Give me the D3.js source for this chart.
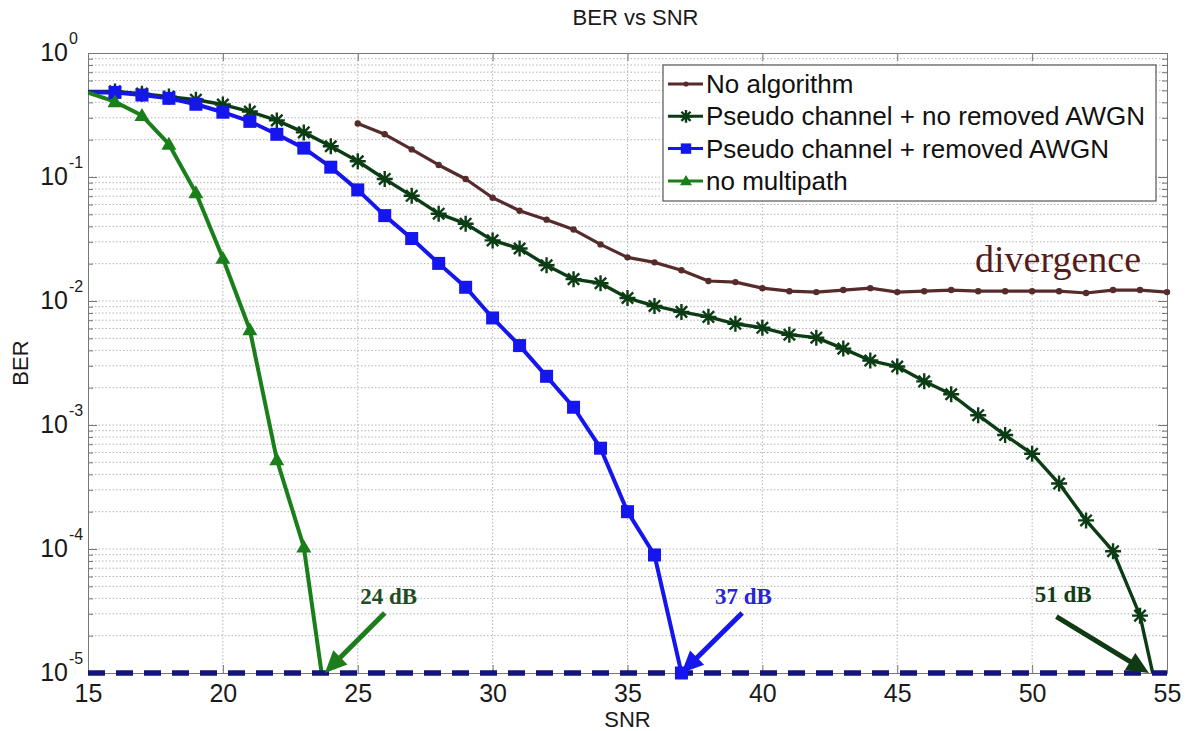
<!DOCTYPE html>
<html><head><meta charset="utf-8">
<script src="https://cdn.jsdelivr.net/npm/d3@7"></script>
<style>
body{margin:0;background:#fff}
svg{display:block}
</style>
</head><body>
<svg id="c" width="1188" height="731" font-family="Liberation Sans, Arial, sans-serif"></svg>
<script>
// ---------- DATA ----------
const snrNoAlgorithm = [25,26,27,28,29,30,31,32,33,34,35,36,37,38,39,40,41,42,43,44,45,46,47,48,49,50,51,52,53,54,55];
const berNoAlgorithm = [0.27,0.221,0.167,0.125,0.0964,0.068,0.0535,0.0453,0.0377,0.0286,0.0225,0.0205,0.0177,0.0145,0.0142,0.0127,0.0120,0.0118,0.01225,0.0127,0.0118,0.0120,0.01225,0.0120,0.0120,0.0120,0.0120,0.0116,0.01225,0.01225,0.0118];

const snrNoRemoved = [15,16,17,18,19,20,21,22,23,24,25,26,27,28,29,30,31,32,33,34,35,36,37,38,39,40,41,42,43,44,45,46,47,48,49,50,51,52,53,54,55];
const berNoRemoved = [0.49,0.49,0.47,0.445,0.42,0.384,0.337,0.286,0.229,0.177,0.134,0.0964,0.0705,0.0506,0.042,0.0308,0.0265,0.0194,0.015,0.0139,0.01057,0.00912,0.00817,0.00745,0.00655,0.00608,0.00535,0.00506,0.00413,0.00331,0.00296,0.00225,0.00177,0.0012,0.00083,0.000586,0.000337,0.00017,0.000096,0.000029,0.000003];

const snrRemoved = [15,16,17,18,19,20,21,22,23,24,25,26,27,28,29,30,31,32,33,34,35,36,37];
const berRemoved = [0.48,0.481,0.458,0.431,0.386,0.333,0.281,0.221,0.171,0.120,0.0787,0.0488,0.0319,0.0201,0.0129,0.0073,0.00437,0.00247,0.00139,0.00065,0.0002,0.0000895,0.00001];

const snrNoMultipath = [15,16,17,18,19,20,21,22,23,24];
const berNoMultipath = [0.479,0.405,0.313,0.184,0.0745,0.0221,0.00586,0.000525,0.000104,0.000003];

const seriesNames = ["No algorithm","Pseudo channel + no removed AWGN","Pseudo channel + removed AWGN","no multipath"];
const xTickValues = [15,20,25,30,35,40,45,50,55];
const yExponents = [0,-1,-2,-3,-4,-5];

const annotations = [
  {label:"24 dB", tx:26.15, ty:3.6e-5, from:[26.0,3.05e-5], to:[23.78,1e-5], text:"#1e4d22", arrow:"#1d7d1d"},
  {label:"37 dB", tx:39.3,  ty:3.6e-5, from:[39.25,3.05e-5], to:[37.0,1e-5],  text:"#2626d8", arrow:"#1515ee"},
  {label:"51 dB", tx:51.15, ty:3.75e-5, from:[50.9,2.85e-5], to:[54.33,1e-5], text:"#123d17", arrow:"#0f3a14"}
];

// ---------- CHART ----------
const SERIF = "'Liberation Serif', 'Times New Roman', serif";
const svg = d3.select("#c");
const P = {l:88, r:1167, t:53, b:673};
const x = d3.scaleLinear().domain([15,55]).range([P.l,P.r]);
const y = d3.scaleLog().domain([1e-5,1]).range([P.b,P.t]);

const colors = {brown:"#552b2b", dark:"#0c3c14", blue:"#1515ee", green:"#1a7f1a"};

svg.append("rect").attr("width",1188).attr("height",731).attr("fill","#fff");

const yMajor = yExponents.map(e=>Math.pow(10,e));
const yMinor = [];
yExponents.filter(e=>e<0).forEach(e=>{ for(let k=2;k<=9;k++) yMinor.push(k*Math.pow(10,e)); });

const defs = svg.append("defs");
defs.append("clipPath").attr("id","plot").append("rect")
  .attr("x",P.l).attr("y",P.t).attr("width",P.r-P.l).attr("height",P.b-P.t);
defs.append("clipPath").attr("id","mk").append("rect")
  .attr("x",P.l).attr("y",P.t-10).attr("width",P.r-P.l+10).attr("height",P.b-P.t+20);

// grid
const g = svg.append("g");
g.selectAll("line.hg").data(yMinor.concat(yMajor.slice(1,5))).join("line")
  .attr("x1",P.l).attr("x2",P.r).attr("y1",d=>y(d)).attr("y2",d=>y(d))
  .attr("stroke","#b4b4b4").attr("stroke-width",1).attr("stroke-dasharray","1.5,2");
g.selectAll("line.vg").data(xTickValues.slice(1,-1)).join("line")
  .attr("y1",P.t).attr("y2",P.b).attr("x1",d=>x(d)).attr("x2",d=>x(d))
  .attr("stroke","#b4b4b4").attr("stroke-width",1).attr("stroke-dasharray","1.5,2");

function styleAxis(sel){
  sel.selectAll("path.domain").attr("stroke","#777");
  sel.selectAll(".tick line").attr("stroke","#777");
}
const axB = svg.append("g").attr("transform",`translate(0,${P.b})`)
  .call(d3.axisBottom(x).tickValues(xTickValues).tickSizeInner(-8).tickSizeOuter(0).tickPadding(11).tickFormat(d3.format("d")));
axB.attr("font-family",null);
axB.selectAll("text").attr("font-size",25).attr("fill","#1a1a1a");
styleAxis(axB);
const axT = svg.append("g").attr("transform",`translate(0,${P.t})`)
  .call(d3.axisTop(x).tickValues(xTickValues).tickSizeInner(-8).tickSizeOuter(0).tickFormat(""));
styleAxis(axT);
[[d3.axisLeft,P.l],[d3.axisRight,P.r]].forEach(([fn,pos])=>{
  const a1 = svg.append("g").attr("transform",`translate(${pos},0)`)
    .call(fn(y).tickValues(yMinor).tickSizeInner(-5).tickSizeOuter(0).tickFormat(""));
  styleAxis(a1);
  const a2 = svg.append("g").attr("transform",`translate(${pos},0)`)
    .call(fn(y).tickValues(yMajor).tickSizeInner(-9).tickSizeOuter(0).tickFormat(""));
  styleAxis(a2);
});

// y tick labels 10^e
const yl = svg.append("g");
yExponents.forEach(e=>{
  yl.append("text").attr("x",68).attr("y",y(Math.pow(10,e))+8)
    .attr("text-anchor","end").attr("font-size",25).attr("fill","#1a1a1a").text("10");
  yl.append("text").attr("x",69).attr("y",y(Math.pow(10,e))-9)
    .attr("font-size",16).attr("fill","#1a1a1a").text(String(e));
});

// titles
svg.append("text").attr("x",(P.l+P.r)/2+8).attr("y",25).attr("text-anchor","middle")
  .attr("font-size",22).attr("fill","#1a1a1a").text("BER vs SNR");
svg.append("text").attr("x",(P.l+P.r)/2).attr("y",727).attr("text-anchor","middle")
  .attr("font-size",22).attr("fill","#1a1a1a").text("SNR");
svg.append("text").attr("transform",`translate(28,${(P.t+P.b)/2}) rotate(-90)`).attr("text-anchor","middle")
  .attr("font-size",22).attr("fill","#1a1a1a").text("BER");

// data
const mk = (xs,ys)=>xs.map((s,i)=>({snr:s,ber:ys[i]}));
const series = [
  {name:seriesNames[0], data:mk(snrNoAlgorithm,berNoAlgorithm), color:colors.brown, w:3.2, marker:"dot"},
  {name:seriesNames[1], data:mk(snrNoRemoved,berNoRemoved), color:colors.dark, w:3.4, marker:"star"},
  {name:seriesNames[2], data:mk(snrRemoved,berRemoved), color:colors.blue, w:4, marker:"square"},
  {name:seriesNames[3], data:mk(snrNoMultipath,berNoMultipath), color:colors.green, w:4, marker:"tri"}
];
const line = d3.line().x(d=>x(d.snr)).y(d=>y(d.ber));
const lg = svg.append("g").attr("clip-path","url(#plot)");
series.forEach(s=>{
  lg.append("path").datum(s.data).attr("d",line).attr("fill","none")
    .attr("stroke",s.color).attr("stroke-width",s.w).attr("stroke-linejoin","round");
});

// dashed floor line at 1e-5
svg.append("line").attr("x1",x(15)).attr("x2",x(55)).attr("y1",y(1e-5)).attr("y2",y(1e-5))
  .attr("stroke","#14147e").attr("stroke-width",5.5).attr("stroke-dasharray","17,11");

function drawMarker(gg, type, color, cx, cy, sc){
  sc = sc||1;
  if(type==="dot"){
    gg.append("circle").attr("cx",cx).attr("cy",cy).attr("r",3.2*sc).attr("fill",color);
  } else if(type==="star"){
    const s=8*sc, d=5.7*sc;
    gg.append("path").attr("d",`M${cx-s},${cy}L${cx+s},${cy}M${cx},${cy-s}L${cx},${cy+s}M${cx-d},${cy-d}L${cx+d},${cy+d}M${cx-d},${cy+d}L${cx+d},${cy-d}`)
      .attr("stroke",color).attr("stroke-width",2.4).attr("fill","none");
  } else if(type==="square"){
    const h=6.5*sc;
    gg.append("rect").attr("x",cx-h).attr("y",cy-h).attr("width",2*h).attr("height",2*h).attr("fill",color);
  } else if(type==="tri"){
    gg.append("path").attr("d",`M${cx},${cy-7.5*sc}L${cx+7.5*sc},${cy+5.5*sc}L${cx-7.5*sc},${cy+5.5*sc}Z`).attr("fill",color);
  }
}
const mg = svg.append("g").attr("clip-path","url(#mk)");
series.forEach(s=>{
  s.data.filter(d=>d.ber>=1e-5 && d.snr>15).forEach(d=>drawMarker(mg,s.marker,s.color,x(d.snr),y(d.ber)));
});

// annotations
function arrow(x0,y0,x1,y1,color){
  const dx=x1-x0, dy=y1-y0, L=Math.hypot(dx,dy), ux=dx/L, uy=dy/L;
  const hl=22, hw=10;
  const bx=x1-ux*hl, by=y1-uy*hl;
  svg.append("line").attr("x1",x0).attr("y1",y0).attr("x2",bx+ux*2).attr("y2",by+uy*2)
    .attr("stroke",color).attr("stroke-width",5);
  svg.append("path").attr("d",`M${x1},${y1}L${bx-uy*hw},${by+ux*hw}L${bx+uy*hw},${by-ux*hw}Z`).attr("fill",color);
}
annotations.forEach(a=>{
  arrow(x(a.from[0]),y(a.from[1]),x(a.to[0]),y(a.to[1]),a.arrow);
  svg.append("text").attr("x",x(a.tx)).attr("y",y(a.ty)).attr("text-anchor","middle")
    .style("font-family",SERIF).attr("font-weight","bold")
    .attr("font-size",23).attr("fill",a.text).text(a.label);
});
svg.append("text").attr("x",x(50.96)).attr("y",y(0.0171)).attr("text-anchor","middle")
  .style("font-family",SERIF)
  .attr("font-size",38).attr("fill","#561c1c").text("divergence");

// legend
const L = svg.append("g");
L.append("rect").attr("x",663).attr("y",65).attr("width",493).attr("height",136)
  .attr("fill","#fff").attr("stroke","#555").attr("stroke-width",1.2);
series.forEach((s,i)=>{
  const cy = 84 + i*32.3;
  L.append("line").attr("x1",668).attr("x2",703).attr("y1",cy).attr("y2",cy)
    .attr("stroke",s.color).attr("stroke-width",3);
  drawMarker(L,s.marker,s.color,686,cy,0.8);
  L.append("text").attr("x",706).attr("y",cy+9).attr("font-size",26).attr("fill","#111").text(s.name);
});
</script>
</body></html>
